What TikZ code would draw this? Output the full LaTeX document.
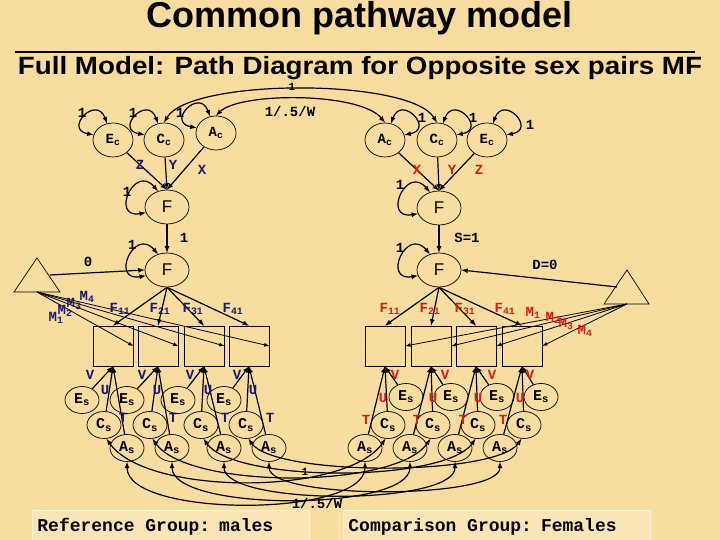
\documentclass[tikz,border=0pt]{standalone}
\usepackage{fontspec}
\setmainfont{Liberation Sans}
\newfontfamily\courfont{Liberation Mono}
\usetikzlibrary{shapes.geometric}

\definecolor{slidebg}{RGB}{248,221,160}
\definecolor{boxbg}{RGB}{250,229,182}
\definecolor{boxline}{RGB}{255,243,215}
\definecolor{navy}{RGB}{25,25,110}
\definecolor{redlab}{RGB}{215,30,20}

\newcommand{\sublab}[2]{#1\textsubscript{#2}}
\DeclareRobustCommand{\monospc}{\spaceskip=10.8pt\relax}

\tikzset{
  lat/.style={ellipse, draw, line width=0.7pt, minimum width=40pt, minimum height=34pt, inner sep=0pt,
    font=\courfont\bfseries\fontsize{14}{14}\selectfont},
  fac/.style={ellipse, draw, line width=0.7pt, minimum width=44pt, minimum height=34pt, inner sep=0pt,
    font=\fontsize{17}{17}\selectfont},
  spec/.style={ellipse, draw, line width=0.7pt, minimum width=34pt, minimum height=27pt, inner sep=0pt,
    font=\courfont\bfseries\fontsize{15}{15}\selectfont},
  obs/.style={rectangle, draw, line width=0.7pt, minimum size=40pt, inner sep=0pt},
  lab/.style={inner sep=0pt, font=\courfont\bfseries\fontsize{14}{14}\selectfont},
  pth/.style={->, line width=1.2pt},
  mpth/.style={->, line width=0.8pt},
  cov/.style={<->, line width=1.2pt},
  varl/.style={<->, line width=1.2pt, out=110, in=170, looseness=4.5},
  varr/.style={<->, line width=1.2pt, out=70, in=10, looseness=4.5},
  varf/.style={<->, line width=1.2pt, out=130, in=190, looseness=3.8},
  grp/.style={draw=boxline, fill=boxbg, line width=0.8pt, minimum height=32pt, inner sep=5pt, align=left,
    font=\courfont\bfseries\fontsize{18}{18}\selectfont},
}

\begin{document}
\begin{tikzpicture}[x=1pt, y=1pt, >=latex]
  \fill[slidebg] (0,0) rectangle (720,540);
  \useasboundingbox (0,0) rectangle (720,540);

  %titles
  \node[anchor=base, font=\bfseries\fontsize{36}{36}\selectfont] (title) at (360,512) {Common pathway model};
  \draw[line width=2pt] (15,488) -- (695,488);
  \node[anchor=base, xscale=1.11, transform shape, font=\bfseries\fontsize{25}{25}\selectfont] (subtitle) at (360,465) {Full Model: Path Diagram for Opposite sex pairs MF};

  %males: common factors
  \node[lat] (EcL) at (113,400) {\sublab{E}{c}};
  \node[lat] (CcL) at (164,400) {\sublab{C}{c}};
  \node[lat] (AcL) at (216,407) {\sublab{A}{c}};
  \node[fac] (FuL) at (167,333) {F};
  \node[fac] (FlL) at (167,270) {F};

  %females: common factors
  \node[lat] (AcR) at (385,400) {\sublab{A}{c}};
  \node[lat] (CcR) at (437,400) {\sublab{C}{c}};
  \node[lat] (EcR) at (487,400) {\sublab{E}{c}};
  \node[fac] (FuR) at (439,332) {F};
  \node[fac] (FlR) at (439,270) {F};

  %variances
  \draw[varl] (EcL.110) to (EcL.165);
  \draw[varl] (CcL.110) to (CcL.165);
  \draw[varl] (AcL.110) to (AcL.165);
  \draw[varr] (AcR.70) to (AcR.15);
  \draw[varr] (CcR.70) to (CcR.15);
  \draw[varr] (EcR.70) to (EcR.15);
  \draw[varf] (FuL.120) to (FuL.195);
  \draw[varf] (FlL.120) to (FlL.195);
  \draw[varf] (FuR.120) to (FuR.195);
  \draw[varf] (FlR.120) to (FlR.195);
  \node[lab] (v1) at (82,427) {1};
  \node[lab] (v2) at (133,427) {1};
  \node[lab] (v3) at (180,427) {1};
  \node[lab] (v4) at (422,422) {1};
  \node[lab] (v5) at (473,422) {1};
  \node[lab] (v6) at (530,415) {1};
  \node[lab] (v7) at (127,348) {1};
  \node[lab] (v8) at (132,295) {1};
  \node[lab] (v9) at (400,355) {1};
  \node[lab] (v10) at (400,292) {1};

  %paths to F
  \foreach \s in {L,R} {
    \draw[pth] (Ec\s) -- (Fu\s.north);
    \draw[pth] (Cc\s) -- (Fu\s.north);
    \draw[pth] (Ac\s) -- (Fu\s.north);
    \draw[pth] (Fu\s) -- (Fl\s);
  }
  \node[lab, navy] (zL) at (140,375) {Z};
  \node[lab, navy] (yL) at (173,375) {Y};
  \node[lab, navy] (xL) at (202,370) {X};
  \node[lab, redlab] (xR) at (417,370) {X};
  \node[lab, redlab] (yR) at (452,370) {Y};
  \node[lab, redlab] (zR) at (479,370) {Z};
  \node[lab] (one) at (184,302) {1};
  \node[lab] (sone) at (467,302) {S=1};

  %between-sex covariances
  \draw[cov] (CcL.north) .. controls (190,462) and (410,462) .. (CcR.north);
  \draw[cov] (AcL.north) .. controls (240,448) and (360,448) .. (AcR.north);
  \node[lab, font=\courfont\bfseries\fontsize{11}{11}\selectfont] (cone) at (292,453) {1};
  \node[lab] (aone) at (290,428) {1/.5/W};

  %means
  \draw[line width=0.7pt] (14,248) -- (37,282) -- (60,248) -- cycle;
  \draw[line width=0.7pt] (604,236) -- (627,270) -- (649,236) -- cycle;
  \coordinate (mL) at (37,248);
  \coordinate (oL) at (50,265);
  \coordinate (mR) at (627,236);
  \coordinate (oR) at (617,253);
  \draw[pth] (oL) -- (FlL.west);
  \draw[pth] (oR) -- (FlR.east);
  \node[lab] (zero) at (88,278) {0};
  \node[lab] (dzero) at (545,275) {D=0};

  %males: variables
  \foreach \x [count=\i] in {113,158,204,249} \node[obs] (RL\i) at (\x,194) {};
  \foreach \x [count=\i] in {82,127,178,224} \node[spec] (EsL\i) at (\x,140) {\sublab{E}{s}};
  \foreach \x [count=\i] in {104,150,201,246} \node[spec] (CsL\i) at (\x,115) {\sublab{C}{s}};
  \foreach \x [count=\i] in {127,172,224,269} \node[spec] (AsL\i) at (\x,92) {\sublab{A}{s}};

  %females: variables
  \foreach \x [count=\i] in {385,431,476,522} \node[obs] (RR\i) at (\x,194) {};
  \foreach \x [count=\i] in {406,451,497,541} \node[spec] (EsR\i) at (\x,143) {\sublab{E}{s}};
  \foreach \x [count=\i] in {388,433,478,524} \node[spec] (CsR\i) at (\x,115) {\sublab{C}{s}};
  \foreach \x [count=\i] in {365,410,455,500} \node[spec] (AsR\i) at (\x,92) {\sublab{A}{s}};

  \foreach \s in {L,R} {
    \foreach \i in {1,...,4} {
      \draw[pth] (Fl\s.south) -- (R\s\i.north);
      \draw[mpth] (m\s) -- (R\s\i.east);
      \draw[pth] (Es\s\i) -- (R\s\i.south);
      \draw[pth] (Cs\s\i) -- (R\s\i.south);
      \draw[pth] (As\s\i) -- (R\s\i.south);
    }
  }

  %loadings and means labels
  \foreach \x [count=\i] in {120,160,193,233} \node[lab, navy] (fL\i) at (\x,231) {F\textsubscript{\i1}};
  \foreach \x [count=\i] in {390,430,465,505} \node[lab, redlab] (fR\i) at (\x,231) {F\textsubscript{\i1}};
  \foreach \x/\y [count=\i] in {56/222,65/229,74/236,87/243} \node[lab, navy] (mlL\i) at (\x,\y) {M\textsubscript{\i}};
  \foreach \x/\y [count=\i] in {533/227,553/222,566/216,585/209} \node[lab, redlab] (mlR\i) at (\x,\y) {M\textsubscript{\i}};

  %specific paths labels
  \foreach \x [count=\i] in {90,142,190,237} \node[lab, navy] (vL\i) at (\x,165) {V};
  \foreach \x [count=\i] in {105,157,208,253} \node[lab, navy] (uL\i) at (\x,150) {U};
  \foreach \x [count=\i] in {123,173,225,270} \node[lab, navy] (tL\i) at (\x,122) {T};
  \foreach \x [count=\i] in {395,445,492,530} \node[lab, redlab] (vR\i) at (\x,165) {V};
  \foreach \x [count=\i] in {383,433,478,520} \node[lab, redlab] (uR\i) at (\x,142) {U};
  \foreach \x [count=\i] in {366,417,463,503} \node[lab, redlab] (tR\i) at (\x,120) {T};

  %specific covariances
  \foreach \i/\d in {1/56,2/50,3/44,4/38}
    \draw[cov] (AsL\i.south) .. controls +(0,-\d) and +(0,-\d) .. (AsR\i.south);
  \foreach \i/\d in {1/70,2/62,3/54,4/46}
    \draw[cov] (CsL\i.-80) .. controls +(-55:\d) and +(-125:\d) .. (CsR\i.-100);
  \node[lab, font=\courfont\bfseries\fontsize{11}{11}\selectfont] (sone2) at (305,68) {1};
  \node[lab] (sa) at (317,37) {1/.5/W};

  %groups
  \node[grp, anchor=north west, text width=267pt] (ref) at (32,30) {\monospc Reference Group: males};
  \node[grp, anchor=north west, text width=297pt] (cmp) at (343,30) {\monospc Comparison Group: Females};
\end{tikzpicture}
\end{document}
